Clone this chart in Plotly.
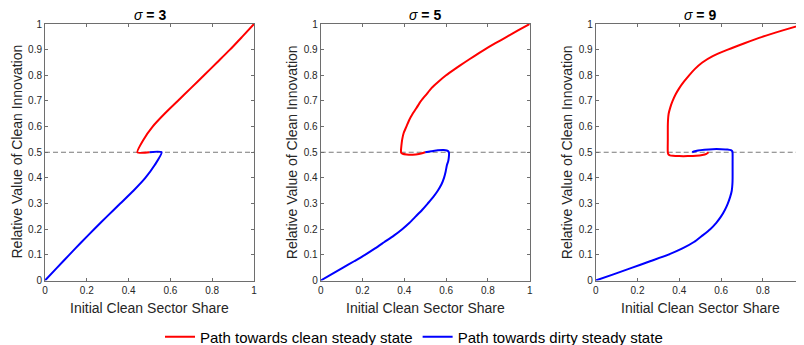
import plotly.graph_objects as go

# ---------------- data ----------------
sigmas = [3, 5, 9]

s3_red_x = [0.50, 0.442, 0.472, 0.515, 0.572, 0.635, 0.698, 0.761, 0.823, 0.885, 0.943, 1.0]
s3_red_y = [0.50, 0.50, 0.55, 0.60, 0.65, 0.70, 0.75, 0.80, 0.85, 0.90, 0.95, 1.0]
s3_blue_x = [0.50, 0.558, 0.525, 0.48, 0.423, 0.36, 0.297, 0.235, 0.175, 0.116, 0.058, 0.0]
s3_blue_y = [0.50, 0.50, 0.45, 0.40, 0.35, 0.30, 0.25, 0.20, 0.15, 0.10, 0.05, 0.0]

s5_red_x = [0.50, 0.47, 0.44, 0.41, 0.392, 0.385, 0.384, 0.386, 0.39, 0.397, 0.41, 0.423, 0.44,
            0.46, 0.48, 0.505, 0.53, 0.563, 0.60, 0.643, 0.688, 0.735, 0.784, 0.836, 0.89, 0.944, 1.0]
s5_red_y = [0.50, 0.493, 0.49, 0.491, 0.494, 0.498, 0.505, 0.525, 0.55, 0.575, 0.60, 0.625, 0.65,
            0.675, 0.70, 0.725, 0.75, 0.775, 0.80, 0.825, 0.85, 0.875, 0.90, 0.925, 0.95, 0.975, 1.0]
s5_blue_x = [0.50, 0.53, 0.56, 0.588, 0.603, 0.611, 0.614, 0.613, 0.61, 0.604, 0.598, 0.59, 0.578,
             0.56, 0.538, 0.512, 0.485, 0.455, 0.425, 0.39, 0.35, 0.305, 0.26, 0.212, 0.16, 0.107,
             0.053, 0.0]
s5_blue_y = [0.50, 0.504, 0.508, 0.509, 0.507, 0.503, 0.497, 0.48, 0.465, 0.45, 0.425, 0.40, 0.375,
             0.35, 0.325, 0.30, 0.275, 0.25, 0.225, 0.20, 0.175, 0.15, 0.125, 0.10, 0.075, 0.05,
             0.025, 0.0]

s9_red_x = [0.54, 0.53, 0.51, 0.48, 0.44, 0.40, 0.37, 0.355, 0.348, 0.345, 0.345, 0.345, 0.346,
            0.349, 0.357, 0.368, 0.382, 0.40, 0.422, 0.447, 0.475, 0.51, 0.56, 0.632, 0.712,
            0.797, 0.895, 1.0]
s9_red_y = [0.50, 0.494, 0.489, 0.486, 0.485, 0.485, 0.486, 0.488, 0.492, 0.50, 0.55, 0.60, 0.625,
            0.65, 0.675, 0.70, 0.725, 0.75, 0.775, 0.80, 0.825, 0.85, 0.875, 0.90, 0.925,
            0.95, 0.975, 1.0]
s9_blue_x = [0.462, 0.47, 0.49, 0.52, 0.56, 0.60, 0.63, 0.647, 0.654, 0.655, 0.655, 0.655, 0.654,
             0.651, 0.643, 0.632, 0.618, 0.60, 0.577, 0.548, 0.51, 0.47, 0.415, 0.345, 0.26,
             0.175, 0.088, 0.0]
s9_blue_y = [0.50, 0.503, 0.507, 0.51, 0.512, 0.512, 0.511, 0.508, 0.503, 0.495, 0.45, 0.40, 0.375,
             0.35, 0.325, 0.30, 0.275, 0.25, 0.225, 0.20, 0.175, 0.15, 0.125, 0.10, 0.075,
             0.05, 0.025, 0.0]

ref_x = [0, 1]
ref_y = [0.5, 0.5]

x_ticks = [0, 0.2, 0.4, 0.6, 0.8, 1]
y_ticks = [0, 0.1, 0.2, 0.3, 0.4, 0.5, 0.6, 0.7, 0.8, 0.9, 1]

red_label = "Path towards clean steady state"
blue_label = "Path towards dirty steady state"
x_title = "Initial Clean Sector Share"
y_title = "Relative Value of Clean Innovation"

panels = [
    (s3_red_x, s3_red_y, s3_blue_x, s3_blue_y),
    (s5_red_x, s5_red_y, s5_blue_x, s5_blue_y),
    (s9_red_x, s9_red_y, s9_blue_x, s9_blue_y),
]

# ---------------- figure ----------------
W, H = 804, 345
OFF = 8  # page body margin offset (window px -> figure px)
FONT = "Liberation Sans, Arial, Helvetica, sans-serif"
AXC = "#6e6e6e"
TXT = "#262626"


def fx(px):
    return (px - OFF) / W


def fy(py):
    return 1 - (py - OFF) / H


panel_left = [45.0, 320.7, 595.7]
PW = 209.0
x_domains = [[fx(l), min(fx(l + PW), 1.0)] for l in panel_left]
y_domain = [fy(280.5), fy(24)]

fig = go.Figure()

for i, (rx, ry, bx, by) in enumerate(panels):
    xa = "x" if i == 0 else f"x{i+1}"
    ya = "y" if i == 0 else f"y{i+1}"
    fig.add_trace(go.Scatter(x=ref_x, y=ref_y, mode="lines", xaxis=xa, yaxis=ya,
                             line=dict(color="#7a7a7a", width=1, dash="5px,3px"),
                             showlegend=False, hoverinfo="skip"))
    fig.add_trace(go.Scatter(x=bx, y=by, mode="lines", xaxis=xa, yaxis=ya,
                             line=dict(color="#0000ff", width=2, shape="spline", smoothing=0.6),
                             name=blue_label, legendgroup="blue", legendrank=2,
                             showlegend=(i == 0)))
    fig.add_trace(go.Scatter(x=rx, y=ry, mode="lines", xaxis=xa, yaxis=ya,
                             line=dict(color="#ff0000", width=2, shape="spline", smoothing=0.6),
                             name=red_label, legendgroup="red", legendrank=1,
                             showlegend=(i == 0)))

axis_common = dict(range=[0, 1], showgrid=False, zeroline=False, showline=True,
                   linecolor=AXC, linewidth=1, mirror="allticks", ticks="inside",
                   ticklen=3, tickcolor=AXC, tickwidth=1, automargin=False,
                   tickfont=dict(family=FONT, size=10, color=TXT))

layout = dict(template="none", width=W, height=H,
              margin=dict(l=0, r=0, t=0, b=0, pad=0, autoexpand=False),
              paper_bgcolor="white", plot_bgcolor="white",
              font=dict(family=FONT, color=TXT),
              legend=dict(orientation="h", x=fx(414), xanchor="center", y=fy(337),
                          yanchor="middle", font=dict(family=FONT, size=15, color="#000000"),
                          bgcolor="rgba(0,0,0,0)", itemwidth=30, tracegroupgap=0,
                          traceorder="normal"))

annotations = []
for i in range(3):
    xk = "xaxis" if i == 0 else f"xaxis{i+1}"
    yk = "yaxis" if i == 0 else f"yaxis{i+1}"
    ya_anchor = "y" if i == 0 else f"y{i+1}"
    xa_anchor = "x" if i == 0 else f"x{i+1}"
    layout[xk] = dict(axis_common, domain=x_domains[i], anchor=ya_anchor,
                      tickvals=x_ticks)
    layout[yk] = dict(axis_common, domain=y_domain, anchor=xa_anchor,
                      tickvals=y_ticks)
    left = panel_left[i]
    cx = fx(left + PW / 2)
    annotations.append(dict(text=f"<i>σ</i><b> = {sigmas[i]}</b>", x=cx, y=fy(15),
                            xref="paper", yref="paper", showarrow=False,
                            xanchor="center", yanchor="middle",
                            font=dict(family=FONT, size=14, color="#000000")))
    annotations.append(dict(text=x_title, x=cx, y=fy(308), xref="paper", yref="paper",
                            showarrow=False, xanchor="center", yanchor="middle",
                            font=dict(family=FONT, size=14, color=TXT)))
    annotations.append(dict(text=y_title, x=fx(left - 28.5), y=fy(152),
                            xref="paper", yref="paper", showarrow=False, textangle=-90,
                            xanchor="center", yanchor="middle",
                            font=dict(family=FONT, size=14, color=TXT)))
layout["annotations"] = annotations

fig.update_layout(**layout)
fig.write_html("out.html")
